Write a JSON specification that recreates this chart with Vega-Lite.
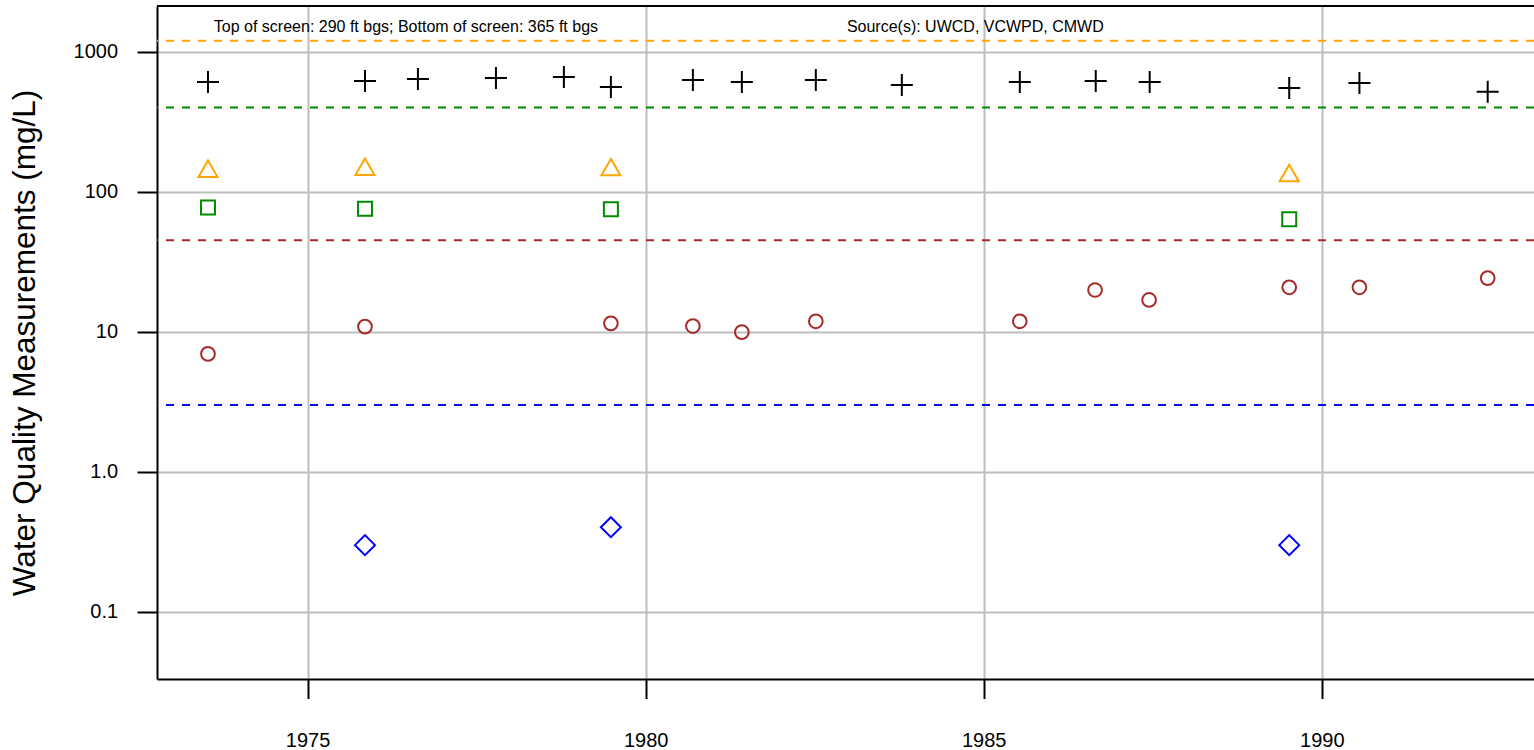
{
  "$schema": "https://vega.github.io/schema/vega-lite/v6.json",
  "width": 1377,
  "height": 673,
  "autosize": {"type": "none"},
  "padding": {"left": 157, "top": 6, "right": 0, "bottom": 71},
  "background": "white",
  "config": {
    "view": {"stroke": null},
    "font": "Liberation Sans"
  },
  "datasets": {
    "obs": [
      {"param": "TDS", "year": 1973.527, "value": 608},
      {"param": "TDS", "year": 1975.849, "value": 618},
      {"param": "TDS", "year": 1976.632, "value": 638},
      {"param": "TDS", "year": 1977.786, "value": 649},
      {"param": "TDS", "year": 1978.791, "value": 659},
      {"param": "TDS", "year": 1979.486, "value": 560},
      {"param": "TDS", "year": 1980.699, "value": 628},
      {"param": "TDS", "year": 1981.423, "value": 608},
      {"param": "TDS", "year": 1982.517, "value": 628},
      {"param": "TDS", "year": 1983.789, "value": 578},
      {"param": "TDS", "year": 1985.534, "value": 608},
      {"param": "TDS", "year": 1986.657, "value": 618},
      {"param": "TDS", "year": 1987.455, "value": 608},
      {"param": "TDS", "year": 1989.519, "value": 551},
      {"param": "TDS", "year": 1990.557, "value": 597},
      {"param": "TDS", "year": 1992.454, "value": 518},
      {"param": "Sulfate", "year": 1973.527, "value": 146},
      {"param": "Sulfate", "year": 1975.849, "value": 151},
      {"param": "Sulfate", "year": 1979.486, "value": 150},
      {"param": "Sulfate", "year": 1989.519, "value": 136},
      {"param": "Chloride", "year": 1973.527, "value": 77.4},
      {"param": "Chloride", "year": 1975.849, "value": 75.6},
      {"param": "Chloride", "year": 1979.486, "value": 75.2},
      {"param": "Chloride", "year": 1989.519, "value": 63.8},
      {"param": "Nitrate", "year": 1973.527, "value": 6.96},
      {"param": "Nitrate", "year": 1975.849, "value": 10.9},
      {"param": "Nitrate", "year": 1979.486, "value": 11.5},
      {"param": "Nitrate", "year": 1980.699, "value": 11.0},
      {"param": "Nitrate", "year": 1981.423, "value": 9.95},
      {"param": "Nitrate", "year": 1982.517, "value": 11.9},
      {"param": "Nitrate", "year": 1985.534, "value": 11.9},
      {"param": "Nitrate", "year": 1986.647, "value": 19.9},
      {"param": "Nitrate", "year": 1987.446, "value": 16.9},
      {"param": "Nitrate", "year": 1989.519, "value": 20.8},
      {"param": "Nitrate", "year": 1990.557, "value": 20.8},
      {"param": "Nitrate", "year": 1992.454, "value": 24.2},
      {"param": "Boron", "year": 1975.849, "value": 0.3},
      {"param": "Boron", "year": 1979.486, "value": 0.403},
      {"param": "Boron", "year": 1989.519, "value": 0.3}
    ],
    "limits": [
      {"param": "Sulfate", "value": 1200},
      {"param": "Chloride", "value": 400},
      {"param": "Nitrate", "value": 45},
      {"param": "Boron", "value": 3}
    ],
    "frame": [
      {"edge": "top", "value": 2121}
    ],
    "notes": [
      {"label": "Top of screen: 290 ft bgs; Bottom of screen: 365 ft bgs", "year": 1976.455, "value": 1376},
      {"label": "Source(s): UWCD, VCWPD, CMWD", "year": 1984.876, "value": 1376}
    ]
  },
  "encoding": {
    "x": {
      "field": "year", "type": "quantitative",
      "scale": {"domain": [1972.773, 1993.139], "nice": false, "zero": false},
      "axis": {
        "values": [1975, 1980, 1985, 1990], "format": "d", "title": null,
        "grid": true, "gridColor": "#BEBEBE", "gridWidth": 2,
        "domainColor": "black", "domainWidth": 2,
        "tickColor": "black", "tickWidth": 2, "tickSize": 19.5,
        "labelFontSize": 20, "labelPadding": 32, "labelColor": "black",
        "labelFont": "Liberation Sans", "labelFlush": false, "labelOverlap": false
      }
    },
    "y": {
      "field": "value", "type": "quantitative",
      "scale": {"type": "log", "domain": [0.03322, 2121], "nice": false},
      "axis": {
        "values": [0.1, 1, 10, 100, 1000],
        "labelExpr": "datum.value == 1 ? '1.0' : datum.value == 0.1 ? '0.1' : format(datum.value, 'd')",
        "title": "Water Quality Measurements (mg/L)",
        "titleFontSize": 31.5, "titleFontWeight": "normal", "titleFont": "Liberation Sans",
        "titleColor": "black", "titleX": -123, "titleY": 336.5, "titleAngle": -90,
        "titleBaseline": "alphabetic", "titleAlign": "center",
        "grid": true, "gridColor": "#BEBEBE", "gridWidth": 2,
        "domainColor": "black", "domainWidth": 2,
        "tickColor": "black", "tickWidth": 2, "tickSize": 20,
        "labelFontSize": 20, "labelPadding": 19.4, "labelColor": "black",
        "labelFont": "Liberation Sans", "labelOverlap": false, "labelFlush": false
      }
    }
  },
  "layer": [
    {
      "data": {"name": "limits"},
      "mark": {"type": "rule", "strokeWidth": 2, "strokeDash": [8, 8]},
      "encoding": {
        "x": null,
        "color": {"field": "param", "type": "nominal", "legend": null,
          "scale": {"domain": ["TDS", "Sulfate", "Chloride", "Nitrate", "Boron"],
                    "range": ["#000000", "#FFA500", "#008B00", "#A52A2A", "#0000FF"]}}
      }
    },
    {
      "data": {"name": "frame"},
      "mark": {"type": "rule", "strokeWidth": 2, "color": "black", "clip": false},
      "encoding": {
        "x": null
      }
    },
    {
      "data": {"name": "obs"},
      "mark": {"type": "point", "filled": false, "strokeWidth": 2, "opacity": 1},
      "encoding": {
        "color": {"field": "param", "type": "nominal", "legend": null},
        "shape": {"field": "param", "type": "nominal", "legend": null,
          "scale": {"domain": ["TDS", "Sulfate", "Chloride", "Nitrate", "Boron"],
                    "range": ["M-1,0L1,0M0,-1L0,1", "triangle-up", "square", "circle", "diamond"]}},
        "size": {"field": "param", "type": "nominal", "legend": null,
          "scale": {"type": "ordinal", "domain": ["TDS", "Sulfate", "Chloride", "Nitrate", "Boron"],
                    "range": [484, 361, 196, 188, 400]}}
      }
    },
    {
      "data": {"name": "notes"},
      "mark": {"type": "text", "fontSize": 16, "align": "center", "baseline": "alphabetic", "color": "black", "font": "Liberation Sans"},
      "encoding": {"text": {"field": "label", "type": "nominal"}}
    }
  ]
}
